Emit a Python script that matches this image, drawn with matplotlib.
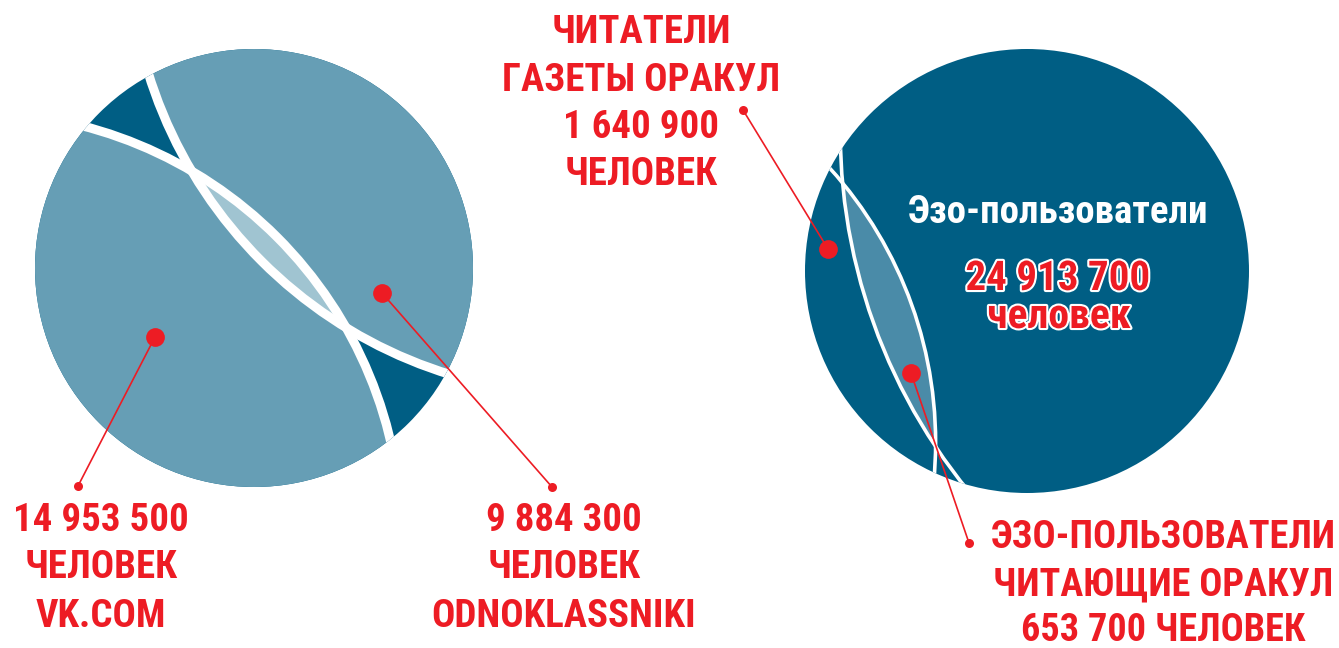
import numpy as np
import matplotlib.pyplot as plt
from matplotlib.patches import Circle
import matplotlib.patheffects as pe

# --- данные (подписи и значения) ---
vk_lines = ['14 953 500', 'ЧЕЛОВЕК', 'VK.COM']
ok_lines = ['9 884 300', 'ЧЕЛОВЕК', 'ODNOKLASSNIKI']
oracle_lines = ['ЧИТАТЕЛИ', 'ГАЗЕТЫ ОРАКУЛ', '1 640 900', 'ЧЕЛОВЕК']
both_lines = ['ЭЗО-ПОЛЬЗОВАТЕЛИ', 'ЧИТАЮЩИЕ ОРАКУЛ', '653 700 ЧЕЛОВЕК']
eso_title = 'Эзо-пользователи'
eso_value = '24 913 700'
eso_unit = 'человек'

# --- цвета ---
DARK = '#005e84'
MID = '#669eb5'
LIGHT = '#a0c4d1'
LENS_R = '#4a8ba8'
RED = '#ed1c24'
FONT = ['Roboto Condensed', 'Roboto', 'DejaVu Sans']

W, H = 1339, 648
fig = plt.figure(figsize=(W / 100, H / 100), dpi=100)
ax = fig.add_axes([0, 0, 1, 1])
ax.set_xlim(0, W)
ax.set_ylim(H, 0)
ax.axis('off')


def fit_circle(pts):
    # окружность по опорным точкам дуги (метод наименьших квадратов)
    pts = np.asarray(pts, float)
    x, y = pts[:, 0], pts[:, 1]
    A = np.column_stack([x, y, np.ones_like(x)])
    D, E, F = np.linalg.lstsq(A, -(x ** 2 + y ** 2), rcond=None)[0]
    cx, cy = -D / 2, -E / 2
    return (cx, cy), np.sqrt(cx ** 2 + cy ** 2 - F)


# опорные точки дуг (пиксели)
arc_vk = [(88, 127), (192, 172), (347, 328), (390, 440)]
arc_ok = [(149, 75), (192, 172), (347, 328), (445, 373)]
arc_r1 = [(832, 168), (842, 185), (887, 250), (932, 380), (934, 445), (935, 477)]
arc_r2 = [(842, 152), (842, 185), (850, 250), (902, 380), (934, 445), (960, 483)]

# --- левый круг: VK и Одноклассники ---
main_l = Circle((254, 268), 219, fc=DARK, ec='none')
ax.add_patch(main_l)
cA, rA = fit_circle(arc_vk)
cB, rB = fit_circle(arc_ok)
pA = Circle(cA, rA, fc=MID, ec='none')
ax.add_patch(pA)
pA.set_clip_path(main_l)
pB = Circle(cB, rB, fc=MID, ec='none')
ax.add_patch(pB)
pB.set_clip_path(main_l)
lens = Circle(cA, rA, fc=LIGHT, ec='none')
ax.add_patch(lens)
lens.set_clip_path(pB)
for c, r in [(cA, rA), (cB, rB)]:
    e = Circle(c, r, fill=False, ec='white', lw=6.5)
    ax.add_patch(e)
    e.set_clip_path(main_l)

# --- правый круг: эзо-пользователи и Оракул ---
main_r = Circle((1027, 271), 222, fc=DARK, ec='none')
ax.add_patch(main_r)
c1, r1 = fit_circle(arc_r1)
c2, r2 = fit_circle(arc_r2)
p2 = Circle(c2, r2, fc='none', ec='none')
ax.add_patch(p2)
lens_r = Circle(c1, r1, fc=LENS_R, ec='none')
ax.add_patch(lens_r)
lens_r.set_clip_path(p2)
for c, r in [(c1, r1), (c2, r2)]:
    e = Circle(c, r, fill=False, ec='white', lw=2.6)
    ax.add_patch(e)
    e.set_clip_path(main_r)

# --- выноски ---
pointers = [((155, 337), (78, 486)),
            ((382, 293), (552, 487)),
            ((828, 249), (743, 110)),
            ((911, 373), (969, 543))]
for big, small in pointers:
    ax.plot([big[0], small[0]], [big[1], small[1]], color=RED, lw=1.2, zorder=5)
    ax.plot(*big, 'o', color=RED, ms=13.5, mec='none', zorder=6)
    ax.plot(*small, 'o', color=RED, ms=6.5, mec='none', zorder=6)


def block(lines, x, baselines, size=28, color=RED):
    for s, yb in zip(lines, baselines):
        ax.text(x, yb, s, ha='center', va='baseline', fontsize=size,
                color=color, fontweight='bold', family=FONT, zorder=7)


block(vk_lines, 101, [531, 578, 627])
block(ok_lines, 564, [531, 578, 627])
block(oracle_lines, 641, [43, 91, 138, 185])
block(both_lines, 1163, [548, 595, 641], size=27.5)
block([eso_title], 1058, [223], color='white')

outline = [pe.withStroke(linewidth=3, foreground='white')]
ax.text(1058, 290, eso_value, ha='center', va='baseline', fontsize=29.5,
        color=RED, fontweight='bold', family=FONT,
        path_effects=outline, zorder=7)
ax.text(1059, 328, eso_unit, ha='center', va='baseline', fontsize=30,
        color=RED, fontweight='bold', family=FONT,
        path_effects=outline, zorder=7)

fig.savefig('out.png', dpi=100)
